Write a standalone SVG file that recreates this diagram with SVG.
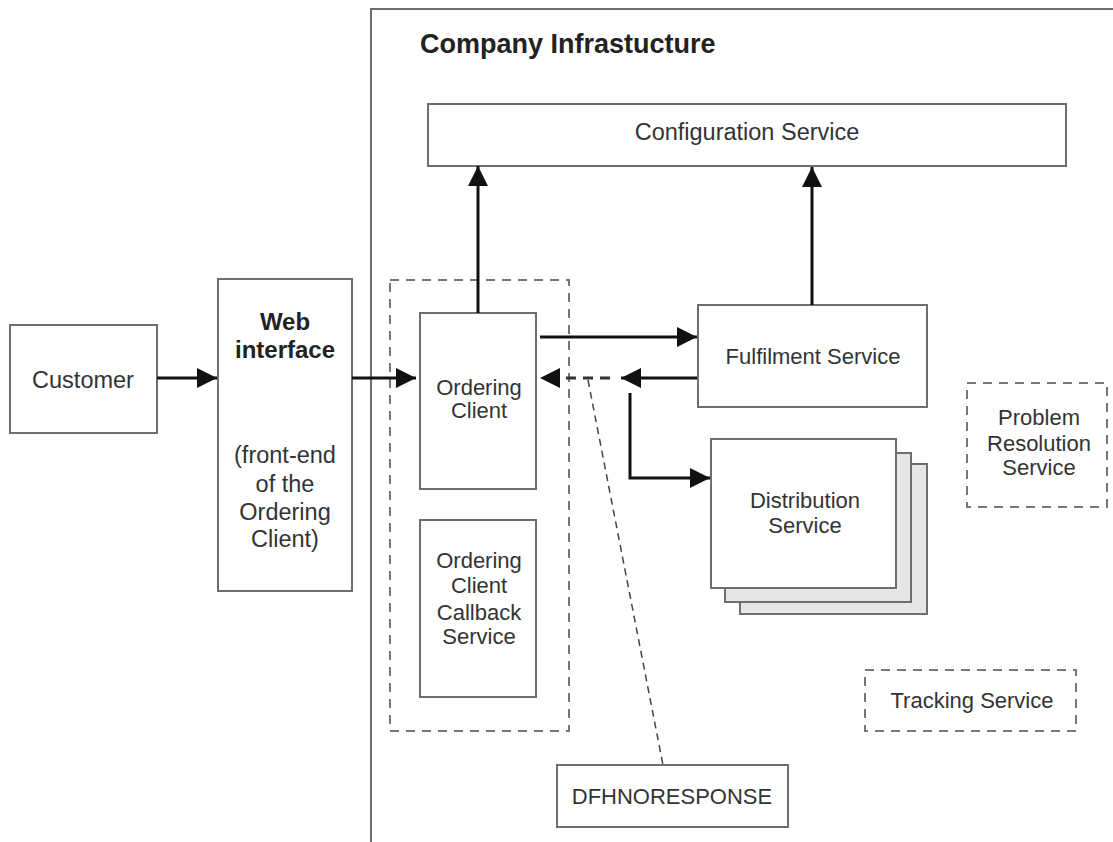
<svg xmlns="http://www.w3.org/2000/svg" width="1113" height="842" viewBox="0 0 1113 842">
<style>
text{font-family:"Liberation Sans",Arial,sans-serif;font-size:22px;fill:#333;text-anchor:middle}
.lg{font-size:23.5px}
.box{fill:#fff;stroke:#6e6e6e;stroke-width:2}
.dash{fill:none;stroke:#777;stroke-width:2;stroke-dasharray:9 7}
.arr{fill:none;stroke:#111;stroke-width:3}
.b{font-weight:bold;fill:#222}
</style>
<defs>
<marker id="a" viewBox="0 0 20 20" refX="20" refY="10" markerWidth="20" markerHeight="20" markerUnits="userSpaceOnUse" orient="auto">
<path d="M0,0 L20,10 L0,20 z" fill="#111"/>
</marker>
</defs>
<g id="company">
<rect x="371" y="9" width="760" height="860" fill="none" stroke="#6e6e6e" stroke-width="2"/>
<text x="420" y="53" class="b" style="text-anchor:start;font-size:27px">Company Infrastucture</text>
</g>
<g id="config">
<rect class="box" x="428" y="104" width="638" height="62"/>
<text x="747" y="140" class="lg">Configuration Service</text>
</g>
<g id="customer">
<rect class="box" x="10" y="325" width="147" height="108"/>
<text x="83" y="388" class="lg">Customer</text>
</g>
<g id="web">
<rect class="box" x="218" y="279" width="134" height="312"/>
<text x="285" y="330" class="b" style="font-size:24px">Web</text>
<text x="285" y="358" class="b" style="font-size:24px">interface</text>
<text x="285" y="463" class="lg">(front-end</text>
<text x="285" y="492" class="lg">of the</text>
<text x="285" y="520" class="lg">Ordering</text>
<text x="285" y="547" class="lg">Client)</text>
</g>
<g id="ordering-group">
<rect class="dash" x="390" y="280" width="179" height="451"/>
</g>
<g id="ordering-client">
<rect class="box" x="420" y="313" width="116" height="176"/>
<text x="479" y="395">Ordering</text>
<text x="479" y="418">Client</text>
</g>
<g id="callback">
<rect class="box" x="420" y="520" width="116" height="177"/>
<text x="479" y="568">Ordering</text>
<text x="479" y="593">Client</text>
<text x="479" y="620">Callback</text>
<text x="479" y="644">Service</text>
</g>
<g id="fulfilment">
<rect class="box" x="698" y="305" width="229" height="102"/>
<text x="813" y="364">Fulfilment Service</text>
</g>
<g id="distribution">
<rect x="740" y="464" width="187" height="150" fill="#e6e6e6" stroke="#6e6e6e" stroke-width="2"/>
<rect x="725" y="453" width="186" height="149" fill="#e6e6e6" stroke="#6e6e6e" stroke-width="2"/>
<rect class="box" x="711" y="439" width="185" height="149"/>
<text x="805" y="508">Distribution</text>
<text x="805" y="533">Service</text>
</g>
<g id="problem">
<rect class="dash" x="967" y="383" width="140" height="124"/>
<text x="1039" y="425">Problem</text>
<text x="1039" y="451">Resolution</text>
<text x="1039" y="475">Service</text>
</g>
<g id="tracking">
<rect class="dash" x="865" y="670" width="211" height="61"/>
<text x="972" y="708">Tracking Service</text>
</g>
<g id="dfh">
<rect class="box" x="557" y="765" width="231" height="62"/>
<text x="672" y="804">DFHNORESPONSE</text>
</g>
<g id="connectors">
<line class="arr" x1="157" y1="378" x2="217" y2="378" marker-end="url(#a)"/>
<line class="arr" x1="352" y1="378" x2="416" y2="378" marker-end="url(#a)"/>
<line class="arr" x1="478" y1="313" x2="478" y2="166" marker-end="url(#a)"/>
<line class="arr" x1="812" y1="305" x2="812" y2="167" marker-end="url(#a)"/>
<line class="arr" x1="540" y1="337" x2="697" y2="337" marker-end="url(#a)"/>
<line class="arr" x1="697" y1="378" x2="621" y2="378" marker-end="url(#a)"/>
<line x1="610" y1="378" x2="555" y2="378" stroke="#333" stroke-width="3" stroke-dasharray="10 7"/>
<path d="M560,368 L540,378 L560,388 z" fill="#111"/>
<path class="arr" d="M630,393 V478 H710" marker-end="url(#a)"/>
<line x1="588" y1="380" x2="663" y2="765" stroke="#444" stroke-width="1.5" stroke-dasharray="7 5"/>
</g>
</svg>
